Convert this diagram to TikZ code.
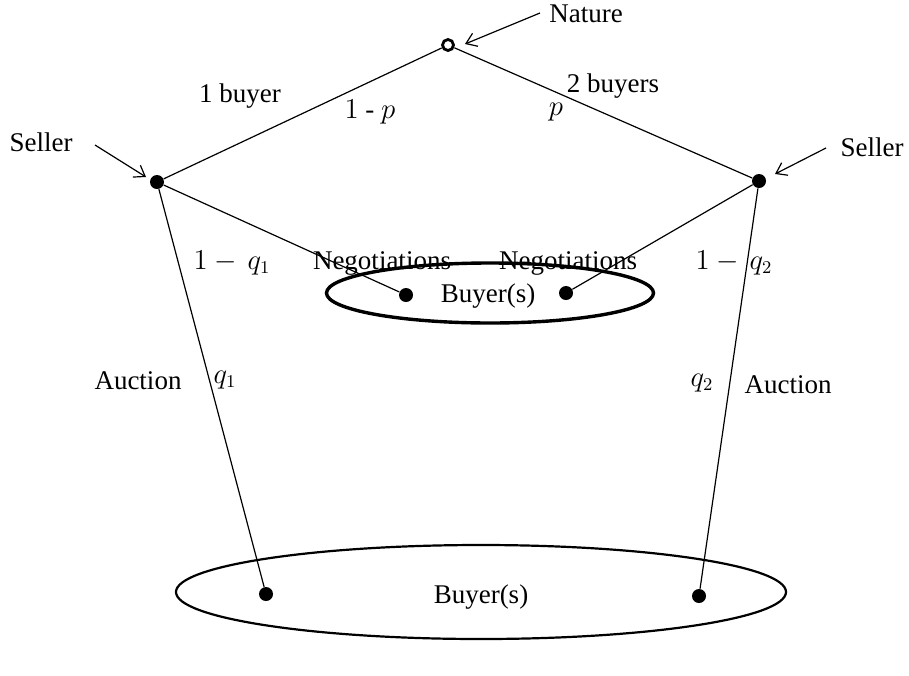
\documentclass[tikz,border=0pt]{standalone}
\usepackage{fontspec}
\setmainfont{Liberation Serif}
\usetikzlibrary{arrows.meta}
\tikzset{
	dot/.style={circle, fill=black, inner sep=0pt, minimum size=7pt},
	opendot/.style={circle, draw, line width=1.4pt, fill=white, inner sep=0pt, minimum size=5.5pt},
	branch/.style={line width=0.6pt},
	pointer/.style={line width=0.6pt, -{Straight Barb[length=5pt,width=7pt]}},
	lbl/.style={inner sep=1pt, font=\fontsize{13.5}{16}\selectfont}
}
\begin{document}
\begin{tikzpicture}[x=0.5pt, y=-0.5pt]
			%%%%% START %%%%%
			\useasboundingbox (0, 0) rectangle (909, 675);
			
			\node[opendot] (nature) at (448, 45) {};
			\node[dot] (sellerL) at (157, 182) {};
			\node[dot] (sellerR) at (759, 181) {};
			\node[dot] (negL) at (406, 295) {};
			\node[dot] (negR) at (566, 293) {};
			\node[dot] (aucL) at (266, 594) {};
			\node[dot] (aucR) at (699, 596) {};
			
			\draw[line width=1.7pt] (490, 293) ellipse (163.5 and 30);
			\draw[line width=1.1pt] (481, 592) ellipse (305 and 47);
			\node[lbl] (buyersM) at (488, 296) {Buyer(s)};
			\node[lbl] (buyersB) at (481, 597) {Buyer(s)};
			
			\draw[branch] (nature) -- (sellerL);
			\draw[branch] (nature) -- (sellerR);
			\draw[branch] (sellerL) -- (negL);
			\draw[branch] (sellerR) -- (negR);
			\draw[branch] (sellerL) -- (aucL);
			\draw[branch] (sellerR) -- (aucR);
			
			\node[lbl, anchor=west] (natureTxt) at (547, 14) {Nature};
			\coordinate (natureTail) at (540, 13);
			\draw[pointer] (natureTail) -- (465, 44);
			
			\node[lbl] (sellerTxtL) at (41, 142) {Seller};
			\coordinate (sellerTailL) at (95, 145);
			\draw[pointer] (sellerTailL) -- (146, 177);
			
			\node[lbl] (sellerTxtR) at (872, 147) {Seller};
			\coordinate (sellerTailR) at (826, 148);
			\draw[pointer] (sellerTailR) -- (775, 174);
			
			\node[lbl] (oneBuyer) at (240, 96) {1 buyer};
			\node[lbl] (probL) at (370, 112) {$1$ - $p$};
			\node[lbl] (twoBuyers) at (613, 86) {2 buyers};
			\node[lbl] (probR) at (556, 112) {$p$};
			
			\node[lbl] (qNegL) at (232, 263) {$1-\,q_1$};
			\node[lbl] (negTxtL) at (382, 263) {Negotiations};
			\node[lbl] (negTxtR) at (568, 263) {Negotiations};
			\node[lbl] (qNegR) at (734, 263) {$1-\,q_2$};
			
			\node[lbl] (aucTxtL) at (138, 381) {Auction};
			\node[lbl] (qAucL) at (225, 380) {$q_1$};
			\node[lbl] (qAucR) at (702, 383) {$q_2$};
			\node[lbl] (aucTxtR) at (788, 385) {Auction};
			%%%%% END %%%%%
		\end{tikzpicture}
\end{document}
